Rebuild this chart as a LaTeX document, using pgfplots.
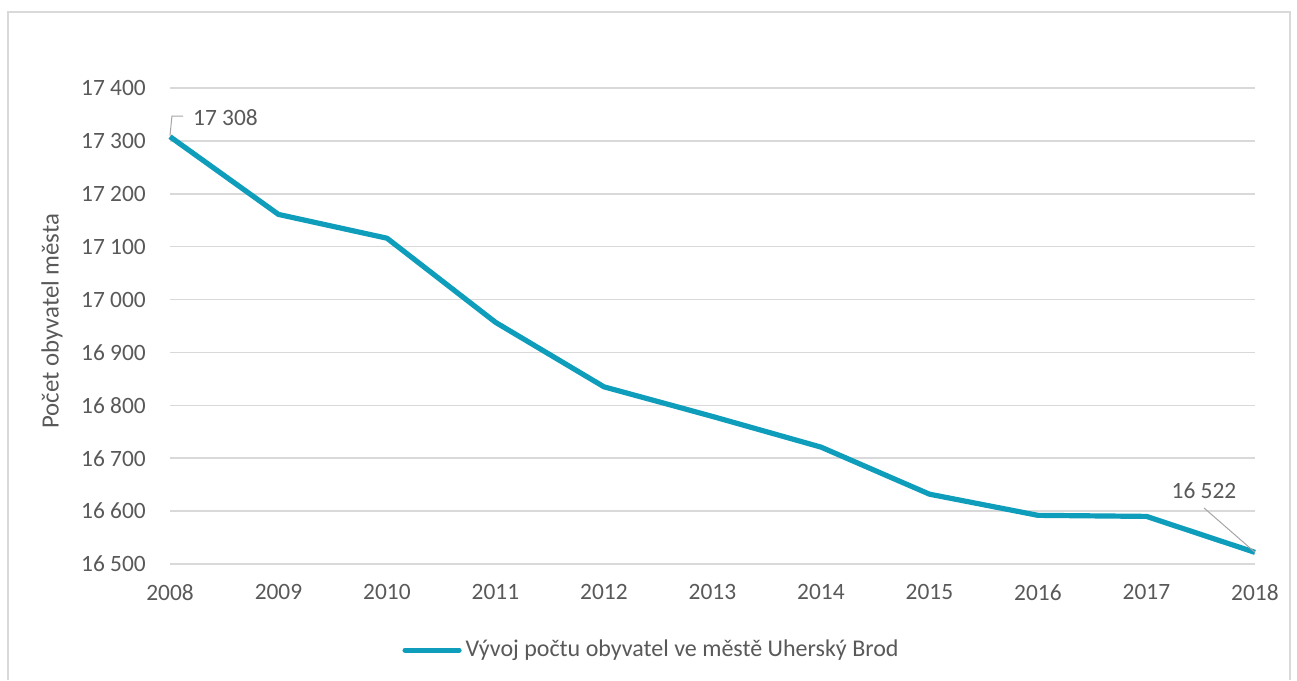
\documentclass[border=0pt]{standalone}
\usepackage{fontspec}
\setmainfont{Carlito}
\usepackage{pgfplots}
\pgfplotsset{compat=1.18}
\definecolor{linecol}{RGB}{14,157,186}
\definecolor{gridgray}{RGB}{217,217,217}
\definecolor{textgray}{RGB}{89,89,89}
\definecolor{leadgray}{RGB}{166,166,166}
\definecolor{framegray}{RGB}{217,217,217}
\begin{document}
\begin{tikzpicture}
\fontsize{11.7}{14}\selectfont
% page extent and outer frame
\path[fill=white] (-85pt,-58pt) rectangle (563.5pt,282pt);
\draw[framegray, line width=0.6pt] (-81pt,-58pt) -- (-81pt,276pt) -- (560pt,276pt) -- (560pt,-58pt);
\begin{axis}[
  at={(0,0)}, anchor=south west,
  scale only axis, width=542.5pt, height=238pt,
  xmin=2008, xmax=2018, ymin=16500, ymax=17400,
  xtick={2008,2009,...,2018},
  ytick={16500,16600,...,17400},
  scaled ticks=false,
  ymajorgrids,
  grid style={draw=gridgray, line width=0.75pt},
  axis line style={draw=none},
  tick style={draw=none},
  /pgf/number format/assume math mode=true,
  tick label style={font=\fontsize{11.7}{14}\selectfont, text=textgray},
  xticklabel style={/pgf/number format/.cd, fixed, 1000 sep=, /tikz/.cd, yshift=-6pt},
  yticklabel style={/pgf/number format/.cd, fixed, precision=0, 1000 sep={\ }, /tikz/.cd, xshift=-8pt},
  ylabel={Počet obyvatel města},
  ylabel style={at={(axis description cs:-0.1088,0.51)}, anchor=center, font=\fontsize{12.4}{15}\selectfont, text=textgray},
  legend style={at={(rel axis cs:0.4447,-0.181)}, anchor=center, draw=none, fill=none,
    font=\fontsize{12}{14}\selectfont, text=textgray, inner sep=0pt},
  legend cell align=left,
  legend image code/.code={\draw[#1, line cap=round] (0pt,0pt) -- (27pt,0pt);},
  clip=false,
]
\addplot[color=linecol, line width=2.6pt, line join=round] coordinates {
  (2008,17308) (2009,17161) (2010,17116) (2011,16957) (2012,16835)
  (2013,16779) (2014,16721) (2015,16632) (2016,16592) (2017,16590) (2018,16522)
};
\addlegendentry{Vývoj počtu obyvatel ve městě Uherský Brod}
\draw[leadgray, line width=0.5pt] (axis cs:2008,17310) -- (axis cs:2008.018,17347) -- (axis cs:2008.12,17347);
\node[anchor=west, text=textgray, inner sep=0pt] at (axis cs:2008.21,17345) {17\ 308};
\draw[leadgray, line width=0.5pt] (axis cs:2017.53,16606) -- (axis cs:2018,16522);
\node[anchor=center, text=textgray, inner sep=0pt] at (axis cs:2017.53,16639) {16\ 522};
\end{axis}
\end{tikzpicture}
\end{document}
